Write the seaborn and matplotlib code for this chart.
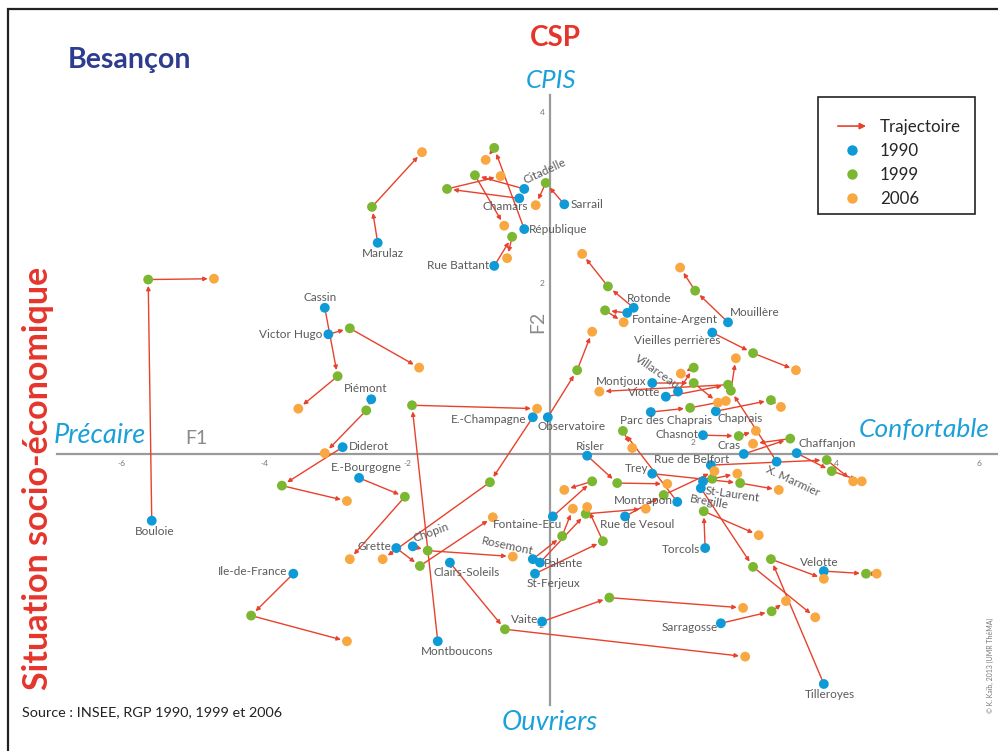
import numpy as np
import pandas as pd
import matplotlib
matplotlib.use("Agg")
import matplotlib.pyplot as plt
import matplotlib.patches as mpatches
import matplotlib.transforms as mtransforms
from matplotlib.legend_handler import HandlerPatch
from matplotlib.lines import Line2D
import seaborn as sns

# Besancon neighbourhoods, positions on the first factorial plane (F1, F2)
quartiers = ["Bouloie", "Marulaz", "Cassin", "Victor Hugo", "Piémont", "Diderot",
             "E.-Bourgogne", "Grette", "Chopin", "Clairs-Soleils", "Montboucons",
             "Ile-de-France", "E.-Champagne", "Observatoire", "Vaite", "Fontaine-Ecu",
             "Rosemont", "Palente", "St-Ferjeux", "Rue de Vesoul", "Risler", "Montrapon",
             "Trey", "Rotonde", "Fontaine-Argent", "Mouillère", "Vieilles perrières",
             "Chaprais", "Chasnot", "X. Marmier", "Montjoux", "Villarceau", "Viotte",
             "Parc des Chaprais", "Cras", "Chaffanjon", "Rue de Belfort", "St-Laurent",
             "Bregille", "Torcols", "Velotte", "Sarragosse", "Tilleroyes", "Citadelle",
             "Chamars", "Sarrail", "République", "Rue Battant"]

f1_1990 = [-5.57, -2.41, -3.15, -3.10, -2.50, -2.90, -2.67, -2.15, -1.92, -1.40, -1.57,
           -3.59, -0.24, -0.03, -0.11, 0.04, -0.24, -0.14, -0.21, 1.05, 0.52, 1.78,
           1.43, 1.17, 1.08, 2.49, 2.27, 2.32, 2.14, 3.17, 1.43, 1.79, 1.62,
           1.41, 2.71, 3.45, 2.25, 2.14, 2.11, 2.17, 3.83, 2.39, 3.83, -0.36,
           -0.43, 0.20, -0.36, -0.78]
f2_1990 = [-0.78, 2.47, 1.71, 1.40, 0.64, 0.08, -0.28, -1.10, -1.08, -1.27, -2.19,
           -1.40, 0.43, 0.43, -1.96, -0.73, -1.23, -1.27, -1.40, -0.73, -0.02, -0.56,
           -0.23, 1.71, 1.65, 1.54, 1.42, 0.50, 0.22, -0.09, 0.83, 0.73, 0.67,
           0.49, 0.00, 0.01, -0.13, -0.32, -0.40, -1.10, -1.37, -1.98, -2.69, 3.10,
           2.99, 2.92, 2.63, 2.20]

f1_1999 = [-5.62, -2.49, -2.97, -2.80, -2.57, -3.75, -2.03, -1.82, -1.71, -0.63, -1.93,
           -4.18, -0.84, 0.38, 0.83, 0.59, 0.17, 0.50, 0.74, 1.59, 0.94, 1.02,
           2.66, 0.81, 0.77, 2.03, 2.84, 3.09, 2.64, 2.53, 2.01, 2.01, 2.49,
           1.96, 3.36, 3.94, 3.87, 2.27, 2.84, 2.15, 4.42, 3.10, 3.09, -1.05,
           -1.44, -0.06, -0.78, -0.53]
f2_1999 = [2.04, 2.89, 0.91, 1.47, 0.51, -0.37, -0.50, -1.31, -1.13, -2.05, 0.57,
           -1.89, -0.33, 0.98, -1.68, -0.32, -0.96, -0.70, -1.02, -0.48, -0.34, 0.27,
           -0.34, 1.96, 1.68, 1.91, 1.18, 0.63, 0.21, 0.74, 0.83, 1.01, 0.81,
           0.54, 0.18, -0.20, -0.07, -0.29, -1.32, -0.67, -1.40, -1.84, -1.23, 3.26,
           3.10, 3.17, 3.58, 2.54]

f1_2006 = [-4.70, -1.79, -3.52, -1.83, -3.15, -2.84, -2.80, -0.80, -0.52, 2.73, -0.18,
           -2.84, -2.34, 0.59, 2.70, 0.20, 0.32, 1.34, 0.52, 2.30, 1.64, 1.15,
           3.20, 0.45, 1.03, 1.82, 3.44, 3.23, 2.88, 2.60, 2.35, 1.83, 0.69,
           2.46, 2.84, 4.36, 4.24, 2.62, 3.71, 2.92, 4.57, 3.30, 3.83, -0.64,
           -0.69, -0.20, -0.90, -0.60]
f2_2006 = [2.05, 3.53, 0.53, 1.01, 0.01, -0.55, -1.23, -0.74, -1.20, -2.37, 0.53,
           -2.19, -1.23, 1.43, -1.80, -0.42, -0.64, -0.64, -0.62, -0.20, -0.35, 0.07,
           -0.42, 2.34, 1.54, 2.18, 0.98, 0.55, 0.27, 1.12, 0.60, 0.94, 0.73,
           0.62, 0.12, -0.32, -0.32, -0.23, -1.91, -0.95, -1.40, -1.72, -1.46, 2.67,
           3.25, 2.91, 3.44, 2.29]

annees = ["1990", "1999", "2006"]

# label placement around the 1990 point: dx, dy (pixels), ha, va, rotation
label_place = {
    "Bouloie": (3, -5, "center", "top", 0), "Marulaz": (5, -5, "center", "top", 0),
    "Cassin": (-5, 5, "center", "bottom", 0), "Victor Hugo": (-6, 0, "right", "center", 0),
    "Piémont": (-6, 5, "center", "bottom", 0), "Diderot": (6, 1, "left", "center", 0),
    "E.-Bourgogne": (7, 5, "center", "bottom", 0), "Grette": (-5, 2, "right", "center", 0),
    "Chopin": (3, 2, "left", "bottom", 20), "Clairs-Soleils": (-16, -4, "left", "top", 0),
    "Montboucons": (19, -5, "center", "top", 0), "Ile-de-France": (-6, 2, "right", "center", 0),
    "E.-Champagne": (-6, -2, "right", "center", 0), "Observatoire": (-10, -4, "left", "top", 0),
    "Vaite": (-4, 2, "right", "center", 0), "Fontaine-Ecu": (-25, -3, "center", "top", 0),
    "Rosemont": (-25, 13, "center", "center", -12), "Palente": (4, -1, "left", "center", 0),
    "St-Ferjeux": (19, -4, "center", "top", 0), "Rue de Vesoul": (12, -3, "center", "top", 0),
    "Risler": (3, 4, "center", "bottom", 0), "Montrapon": (-4, 1, "right", "center", 0),
    "Trey": (-4, 5, "right", "center", 0), "Rotonde": (-7, 4, "left", "bottom", 0),
    "Fontaine-Argent": (5, -7, "left", "center", 0), "Mouillère": (2, 4, "left", "bottom", 0),
    "Vieilles perrières": (-35, -2, "center", "top", 0), "Chaprais": (2, -2, "left", "top", 0),
    "Chasnot": (-5, 1, "right", "center", 0), "X. Marmier": (-8, -2, "left", "top", -25),
    "Montjoux": (-6, 2, "right", "center", 0), "Villarceau": (-21, 20, "center", "center", -35),
    "Viotte": (-5, 4, "right", "center", 0), "Parc des Chaprais": (15, -3, "center", "top", 0),
    "Cras": (-3, 8, "right", "center", 0), "Chaffanjon": (2, 4, "left", "bottom", 0),
    "Rue de Belfort": (-19, 6, "center", "center", 0), "St-Laurent": (2, -9, "left", "center", -8),
    "Bregille": (8, -14, "center", "center", -10), "Torcols": (-5, -1, "right", "center", 0),
    "Velotte": (-5, 3, "center", "bottom", 0), "Sarragosse": (-3, -4, "right", "center", 0),
    "Tilleroyes": (6, -5, "center", "top", 0), "Citadelle": (2, 3, "left", "bottom", 25),
    "Chamars": (-14, -3, "center", "top", 0), "Sarrail": (6, 0, "left", "center", 0),
    "République": (5, 0, "left", "center", 0), "Rue Battant": (-5, 0, "right", "center", 0),
}

BLUE = "#0d9ad6"
GREEN = "#7bb731"
ORANGE = "#f8a741"
RED = "#e8412c"
CYAN = "#1ba0da"
palette = {"1990": BLUE, "1999": GREEN, "2006": ORANGE}

df = pd.concat([
    pd.DataFrame({"quartier": quartiers, "annee": "1990", "F1": f1_1990, "F2": f2_1990}),
    pd.DataFrame({"quartier": quartiers, "annee": "1999", "F1": f1_1999, "F2": f2_1999}),
    pd.DataFrame({"quartier": quartiers, "annee": "2006", "F1": f1_2006, "F2": f2_2006}),
], ignore_index=True)

sns.set_style("white")
plt.rcParams["font.family"] = ["Lato", "DejaVu Sans"]

W, H = 998, 751
fig = plt.figure(figsize=(W / 100, H / 100), dpi=100)
ax = fig.add_axes([35 / W, 11 / H, 963 / W, 640 / H])
ax.set_xlim(-7.203, 6.266)
ax.set_ylim(-3.345, 4.140)

# trajectories 1990 -> 1999 -> 2006
for i in range(len(quartiers)):
    pts = [(f1_1990[i], f2_1990[i]), (f1_1999[i], f2_1999[i]), (f1_2006[i], f2_2006[i])]
    for a, b in zip(pts[:-1], pts[1:]):
        ax.annotate("", xy=b, xytext=a, zorder=2,
                    arrowprops=dict(arrowstyle="-|>", color=RED, lw=1.0,
                                    shrinkA=3.5, shrinkB=4.5, mutation_scale=6))

sns.scatterplot(data=df, x="F1", y="F2", hue="annee", palette=palette, s=50,
                linewidth=0, legend=False, zorder=3, ax=ax)

for i, name in enumerate(quartiers):
    dx, dy, ha, va, rot = label_place[name]
    ax.annotate(name, xy=(f1_1990[i], f2_1990[i]), xytext=(dx, dy),
                textcoords="offset pixels", ha=ha, va=va, rotation=rot,
                rotation_mode="anchor", fontsize=8.5, color="#5a5a5a", zorder=4)

# axes through the origin
for s in ["top", "right"]:
    ax.spines[s].set_visible(False)
ax.spines["left"].set_position(("data", 0))
ax.spines["bottom"].set_position(("data", 0))
ax.spines["left"].set_bounds(-2.93, 4.2)
ax.spines["bottom"].set_bounds(-6.9, 6.3)
for s in ["left", "bottom"]:
    ax.spines[s].set_color("#9a9a9a")
    ax.spines[s].set_linewidth(1.6)
    ax.spines[s].set_zorder(1)
ax.set_xticks([-6, -4, -2, 2, 4, 6])
ax.set_xticklabels(["-6", "-4", "-2", "2", "4", "6"])
ax.set_yticks([-2, -1, 1, 2, 3, 4])
ax.set_yticklabels(["-2", "", "", "2", "", "4"])
ax.tick_params(direction="inout", length=6, width=1, color="#9a9a9a",
               labelsize=6, labelcolor="#777777", pad=1)
# the "2" of F1 sits above the axis in the original
lab2 = ax.get_xticklabels()[3]
lab2.set_transform(lab2.get_transform() +
                   mtransforms.ScaledTranslation(0, 15 / 72, fig.dpi_scale_trans))
ax.set_xlabel("")
ax.set_ylabel("")

ax.text(-4.95, 0.08, "F1", fontsize=14, color="#8a8a8a", ha="center", va="bottom")
ax.text(-0.17, 1.55, "F2", fontsize=14, color="#8a8a8a", ha="center", va="center",
        rotation=90)

# titles and pole names
def ftext(x, y, s, **kw):
    fig.text(x / W, 1 - y / H, s, **kw)

ftext(130, 60, "Besançon", fontsize=20.5, fontweight="bold", color="#2d3c8e",
      ha="center", va="center")
ftext(555, 38, "CSP", fontsize=20, fontweight="bold", color="#e5352b",
      ha="center", va="center")
ftext(551, 80, "CPIS", fontsize=18.5, style="italic", color=CYAN, ha="center", va="center")
ftext(550, 722, "Ouvriers", fontsize=19.5, style="italic", color=CYAN, ha="center",
      va="center")
ftext(100, 435, "Précaire", fontsize=19.5, style="italic", color=CYAN, ha="center",
      va="center")
ftext(924, 430, "Confortable", fontsize=19, style="italic", color=CYAN, ha="center",
      va="center")
ftext(38, 478, "Situation socio-économique", fontsize=24.5, fontweight="bold",
      color="#e5352b", ha="center", va="center", rotation=90)
ftext(22, 712, "Source : INSEE, RGP 1990, 1999 et 2006", fontsize=10.4, color="#222222",
      ha="left", va="center")
ftext(990, 665, "© K. Kaïb, 2013 (UMR ThéMA)", fontsize=5, color="#777777",
      ha="center", va="center", rotation=90)

# frame around the whole figure
fig.patches.append(mpatches.Rectangle((8 / W, -0.01), 1.0, 1 - 9 / H + 0.01,
                                      transform=fig.transFigure, fill=False,
                                      edgecolor="#222222", lw=1.6))
# legend box
fig.patches.append(mpatches.Rectangle((818 / W, 1 - 214 / H), 157 / W, 117 / H,
                                      transform=fig.transFigure, fill=False,
                                      edgecolor="#222222", lw=1.2, zorder=5))


class HandlerArrow(HandlerPatch):
    def create_artists(self, legend, orig_handle, xdescent, ydescent, width, height,
                       fontsize, trans):
        p = mpatches.FancyArrowPatch((-xdescent, 0.5 * height - ydescent),
                                     (width - xdescent, 0.5 * height - ydescent),
                                     arrowstyle="-|>", mutation_scale=9, color=RED, lw=1.2)
        p.set_transform(trans)
        return [p]


arrow_handle = mpatches.FancyArrowPatch((0, 0), (1, 0))
handles = [arrow_handle] + [Line2D([], [], marker="o", ls="", markersize=7.5,
                                   markerfacecolor=palette[a], markeredgewidth=0)
                            for a in annees]
leg = fig.legend(handles, ["Trajectoire"] + annees, loc="upper left",
                 bbox_to_anchor=(835 / W, 1 - 119 / H), bbox_transform=fig.transFigure,
                 borderaxespad=0, borderpad=0, frameon=False, fontsize=12.2,
                 handlelength=2.0, labelspacing=0.47, handletextpad=0.65,
                 handler_map={arrow_handle: HandlerArrow()})

fig.savefig("out.png", dpi=100)
